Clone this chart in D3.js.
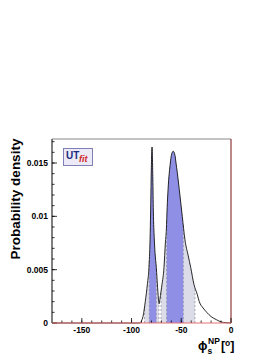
<!DOCTYPE html>
<html>
<head>
<meta charset="utf-8">
<script src="https://cdn.jsdelivr.net/npm/d3@7"></script>
<style>
  body { margin: 0; background: #fff; }
  svg { display: block; font-family: "Liberation Sans", Arial, sans-serif; }
</style>
</head>
<body>
<svg width="278" height="360"></svg>
<script>
// density curve
phi = [-180, -92, -90, -88.5, -86.2, -84, -82.5, -81.4, -80.8, -80.3, -79.4, -78.6, -78.1, -77.2, -76.4, -75.1,
       -73.8, -72.7, -72.3, -71.5, -70.3, -69.4, -67.4, -66, -65, -64.2, -63.3, -61, -60, -58.1, -56.3, -55.3,
       -54, -52, -49, -46.3, -43, -40.5, -37.2, -34, -31.9, -28, -24.4, -20, -14.4, -10, -5, 0];
density = [0, 0, 0.0002, 0.0006, 0.0020, 0.0037, 0.0052, 0.0078, 0.0105, 0.0135, 0.0165, 0.0135, 0.0105, 0.0080, 0.0066, 0.0052,
           0.0033, 0.0020, 0.0018, 0.0022, 0.0030, 0.0036, 0.0052, 0.0075, 0.0088, 0.0108, 0.0125, 0.0150, 0.0157, 0.0161, 0.0157, 0.0150,
           0.0141, 0.0125, 0.0100, 0.0078, 0.0063, 0.0052, 0.0036, 0.0027, 0.0020, 0.0014, 0.0010, 0.0006, 0.0003, 0.0001, 0.00003, 0];

// probability intervals [from, to]
range95 = [[-87, -72.5], [-70.4, -36.2]];
range68 = [[-82.2, -75.1], [-64.7, -48]];

xTicks = [-150, -100, -50, 0];
yTicks = [0, 0.005, 0.01, 0.015];

const svg = d3.select("svg");
const pL = 52, pR = 231, pT = 139, pB = 323;

const x = d3.scaleLinear().domain([-180, 0]).range([pL, pR]);
const y = d3.scaleLinear().domain([0, 0.01725]).range([pB, pT]);

const pts = phi.map((p, i) => [p, density[i]]);

const area = d3.area()
    .x(d => x(d[0]))
    .y0(y(0))
    .y1(d => y(d[1]))
    .curve(d3.curveMonotoneX);
const line = d3.line()
    .x(d => x(d[0]))
    .y(d => y(d[1]))
    .curve(d3.curveMonotoneX);

const defs = svg.append("defs");
function band(list, fill, id) {
  list.forEach(function(r, i) {
    defs.append("clipPath").attr("id", id + i)
      .append("rect")
        .attr("x", x(r[0])).attr("y", pT)
        .attr("width", x(r[1]) - x(r[0])).attr("height", pB - pT);
    svg.append("path")
        .datum(pts)
        .attr("d", area)
        .attr("fill", fill)
        .attr("clip-path", `url(#${id + i})`);
  });
}
band(range95, "#dcdce8", "c95");
band(range68, "#8f8fe6", "c68");

// dashed edges of the intervals
const edge = [].concat(...range95, ...range68);
const valueAt = v => {
  let i = phi.findIndex(p => p >= v);
  const t = (v - phi[i - 1]) / (phi[i] - phi[i - 1]);
  return density[i - 1] + t * (density[i] - density[i - 1]);
};
svg.append("g").selectAll("line")
  .data(edge)
  .join("line")
    .attr("x1", d => x(d)).attr("x2", d => x(d))
    .attr("y1", y(0)).attr("y2", d => y(valueAt(d)))
    .attr("stroke", "#8a8a9a")
    .attr("stroke-width", 0.7)
    .attr("stroke-dasharray", "2,2");

svg.append("path")
    .datum(pts)
    .attr("d", line)
    .attr("fill", "none")
    .attr("stroke", "#111")
    .attr("stroke-width", 0.9);

// frame
svg.append("line").attr("x1", pL).attr("x2", pR).attr("y1", pT).attr("y2", pT)
    .attr("stroke", "#888").attr("stroke-width", 1);
svg.append("line").attr("x1", pR).attr("x2", pR).attr("y1", pT).attr("y2", pB)
    .attr("stroke", "#7a1010").attr("stroke-width", 1);

// axes drawn by hand in ROOT style: ticks inside the frame
const gx = svg.append("g");
gx.selectAll("line.minor")
  .data(d3.range(-170, 0, 10))
  .join("line")
    .attr("class", "minor")
    .attr("x1", d => x(d)).attr("x2", d => x(d))
    .attr("y1", pB).attr("y2", pB - 2.5)
    .attr("stroke", "#000").attr("stroke-width", 0.8);
gx.selectAll("line.major")
  .data(xTicks)
  .join("line")
    .attr("class", "major")
    .attr("x1", d => x(d)).attr("x2", d => x(d))
    .attr("y1", pB).attr("y2", pB - 5)
    .attr("stroke", "#000").attr("stroke-width", 0.8);
gx.selectAll("text")
  .data(xTicks)
  .join("text")
    .attr("x", d => x(d)).attr("y", pB + 9.5)
    .attr("text-anchor", "middle")
    .attr("font-size", 8.5).attr("font-weight", "bold")
    .text(d => d);

const gy = svg.append("g");
gy.selectAll("line.minor")
  .data(d3.range(0.001, 0.0172, 0.001))
  .join("line")
    .attr("class", "minor")
    .attr("x1", pL).attr("x2", pL + 2.5)
    .attr("y1", d => y(d)).attr("y2", d => y(d))
    .attr("stroke", "#000").attr("stroke-width", 0.8);
gy.selectAll("line.major")
  .data(yTicks)
  .join("line")
    .attr("class", "major")
    .attr("x1", pL).attr("x2", pL + 5)
    .attr("y1", d => y(d)).attr("y2", d => y(d))
    .attr("stroke", "#000").attr("stroke-width", 0.8);
gy.selectAll("text")
  .data(yTicks)
  .join("text")
    .attr("x", pL - 4).attr("y", d => y(d) + 3)
    .attr("text-anchor", "end")
    .attr("font-size", 8.5).attr("font-weight", "bold")
    .text(d => d);

svg.append("line").attr("x1", pL).attr("x2", pL).attr("y1", pT).attr("y2", pB)
    .attr("stroke", "#000").attr("stroke-width", 1);
svg.append("line").attr("x1", pL).attr("x2", pR).attr("y1", pB).attr("y2", pB)
    .attr("stroke", "#e87070").attr("stroke-width", 1);

// titles
svg.append("text")
    .attr("transform", `translate(20,${(pT + pB) / 2 - 32}) rotate(-90)`)
    .attr("text-anchor", "middle")
    .attr("font-size", 13.5).attr("font-weight", "bold")
    .text("Probability density");

const xt = svg.append("text")
    .attr("x", 198).attr("y", 350)
    .attr("font-size", 12.5).attr("font-weight", "bold");
xt.append("tspan").text("ϕ");
xt.append("tspan").attr("font-size", 8.5).attr("dy", 4).text("s");
xt.append("tspan").attr("font-size", 8.5).attr("dx", -4).attr("dy", -10).text("NP");
xt.append("tspan").attr("dy", 6).attr("dx", 1).text("[");
xt.append("tspan").attr("font-size", 8.5).attr("dy", -4).text("o");
xt.append("tspan").attr("dy", 4).text("]");

// UTfit logo
const logo = svg.append("g");
logo.append("rect")
    .attr("x", 63.5).attr("y", 148.5).attr("width", 29).attr("height", 17)
    .attr("fill", "#eceaf6").attr("stroke", "#7f80b8").attr("stroke-width", 1);
logo.append("text")
    .attr("x", 66).attr("y", 159)
    .attr("font-size", 10).attr("font-weight", "bold").attr("fill", "#1c2a80")
    .text("UT");
logo.append("text")
    .attr("x", 79).attr("y", 162)
    .attr("font-size", 9).attr("font-weight", "bold").attr("font-style", "italic").attr("fill", "#d02828")
    .text("fit");
</script>
</body>
</html>
